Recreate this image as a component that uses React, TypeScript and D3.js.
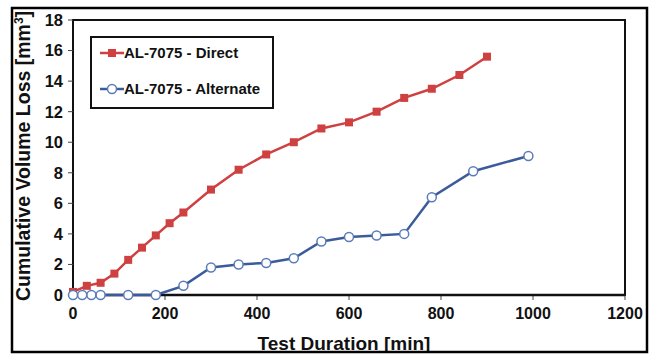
import * as d3 from "d3";

// Test duration (min) and cumulative volume loss (mm³)
const directTime = [0, 30, 60, 90, 120, 150, 180, 210, 240, 300, 360, 420, 480, 540, 600, 660, 720, 780, 840, 900];
const directLoss = [0.2, 0.6, 0.8, 1.4, 2.3, 3.1, 3.9, 4.7, 5.4, 6.9, 8.2, 9.2, 10.0, 10.9, 11.3, 12.0, 12.9, 13.5, 14.4, 15.6];

const altTime = [0, 20, 40, 60, 120, 180, 240, 300, 360, 420, 480, 540, 600, 660, 720, 780, 870, 990];
const altLoss = [0, 0, 0, 0, 0, 0, 0.6, 1.8, 2.0, 2.1, 2.4, 3.5, 3.8, 3.9, 4.0, 6.4, 8.1, 9.1];

const xTicks = [0, 200, 400, 600, 800, 1000, 1200];
const yTicks = [0, 2, 4, 6, 8, 10, 12, 14, 16, 18];

const seriesNames = ["AL-7075 - Direct", "AL-7075 - Alternate"];

const W = 656;
const H = 354;
const RED = "#cf4040";
const BLUE = "#3b5b9b";
const FONT = "'Liberation Sans', Arial, sans-serif";

const App = () => {
    const margin = { left: 73, right: 31, top: 20, bottom: 59 };

    const x = d3.scaleLinear().domain([0, 1200]).range([margin.left, W - margin.right]);
    const y = d3.scaleLinear().domain([0, 18]).range([H - margin.bottom, margin.top]);

    const line = d3.line<[number, number]>()
        .x((d) => x(d[0]))
        .y((d) => y(d[1]));

    const direct: [number, number][] = directTime.map((t, i) => [t, directLoss[i]]);
    const alt: [number, number][] = altTime.map((t, i) => [t, altLoss[i]]);

    const [x0, x1] = x.range();
    const [y0, y1] = y.range();

    return (
        <div style={{ position: "fixed", left: 0, top: 0 }}>
            <svg width={W} height={H} style={{ display: "block", background: "#fff" }} fontFamily={FONT}>
                <defs>
                    <clipPath id="frame">
                        <rect x={12} y={8} width={635} height={344} />
                    </clipPath>
                </defs>

                <g clipPath="url(#frame)">
                    {/* plot area */}
                    <rect x={x0} y={y1} width={x1 - x0} height={y0 - y1} fill="none" stroke="#111" strokeWidth={2} />

                    {/* y axis */}
                    {yTicks.map((t) => (
                        <g key={"y" + t}>
                            <line x1={x0 - 5} x2={x0} y1={y(t)} y2={y(t)} stroke="#444" strokeWidth={1} />
                            <text x={x0 - 10} y={y(t)} dy="0.36em" textAnchor="end" fontSize={16.5} fontWeight="bold" fill="#111">
                                {t}
                            </text>
                        </g>
                    ))}

                    {/* x axis */}
                    {xTicks.map((t) => (
                        <g key={"x" + t}>
                            <line x1={x(t)} x2={x(t)} y1={y0} y2={y0 + 5} stroke="#444" strokeWidth={1} />
                            <text x={x(t)} y={y0 + 24} textAnchor="middle" fontSize={16} fontWeight="bold" fill="#111">
                                {t}
                            </text>
                        </g>
                    ))}
                    <line x1={x0} x2={x1} y1={y0} y2={y0} stroke="#111" strokeWidth={2.5} />

                    {/* axis titles */}
                    <text x={344} y={350} textAnchor="middle" fontSize={19} fontWeight="bold" fill="#111">
                        Test Duration [min]
                    </text>
                    <text
                        transform={`translate(30, 156) rotate(-90)`}
                        textAnchor="middle"
                        fontSize={19.5}
                        fontWeight="bold"
                        fill="#111"
                    >
                        Cumulative Volume Loss [mm<tspan dy="-7" fontSize={12}>3</tspan><tspan dy="7">]</tspan>
                    </text>

                    {/* series: direct */}
                    <path d={line(direct) ?? ""} fill="none" stroke={RED} strokeWidth={2.5} />
                    {direct.map((d, i) => (
                        <rect key={"d" + i} x={x(d[0]) - 4} y={y(d[1]) - 4} width={8} height={8} fill={RED} />
                    ))}

                    {/* series: alternate */}
                    <path d={line(alt) ?? ""} fill="none" stroke={BLUE} strokeWidth={2.5} />
                    {alt.map((d, i) => (
                        <circle key={"a" + i} cx={x(d[0])} cy={y(d[1])} r={4.5} fill="#fff" stroke="#5a7cb8" strokeWidth={1.5} />
                    ))}

                    {/* legend */}
                    <g>
                        <rect x={91} y={37} width={182} height={71} fill="#fff" stroke="#111" strokeWidth={2} />
                        <line x1={100} x2={124} y1={53} y2={53} stroke={RED} strokeWidth={2.5} />
                        <rect x={108} y={49} width={8} height={8} fill={RED} />
                        <text x={124} y={53} dy="0.36em" fontSize={15} fontWeight="bold" fill="#111">{seriesNames[0]}</text>
                        <line x1={100} x2={124} y1={89} y2={89} stroke={BLUE} strokeWidth={2.5} />
                        <circle cx={112} cy={89} r={4.5} fill="#fff" stroke="#5a7cb8" strokeWidth={1.5} />
                        <text x={124} y={89} dy="0.36em" fontSize={15} fontWeight="bold" fill="#111">{seriesNames[1]}</text>
                    </g>
                </g>

                {/* outer frame */}
                <rect x={12} y={8} width={635} height={344} fill="none" stroke="#000" strokeWidth={2.5} />
            </svg>
        </div>
    );
};

export default App;
